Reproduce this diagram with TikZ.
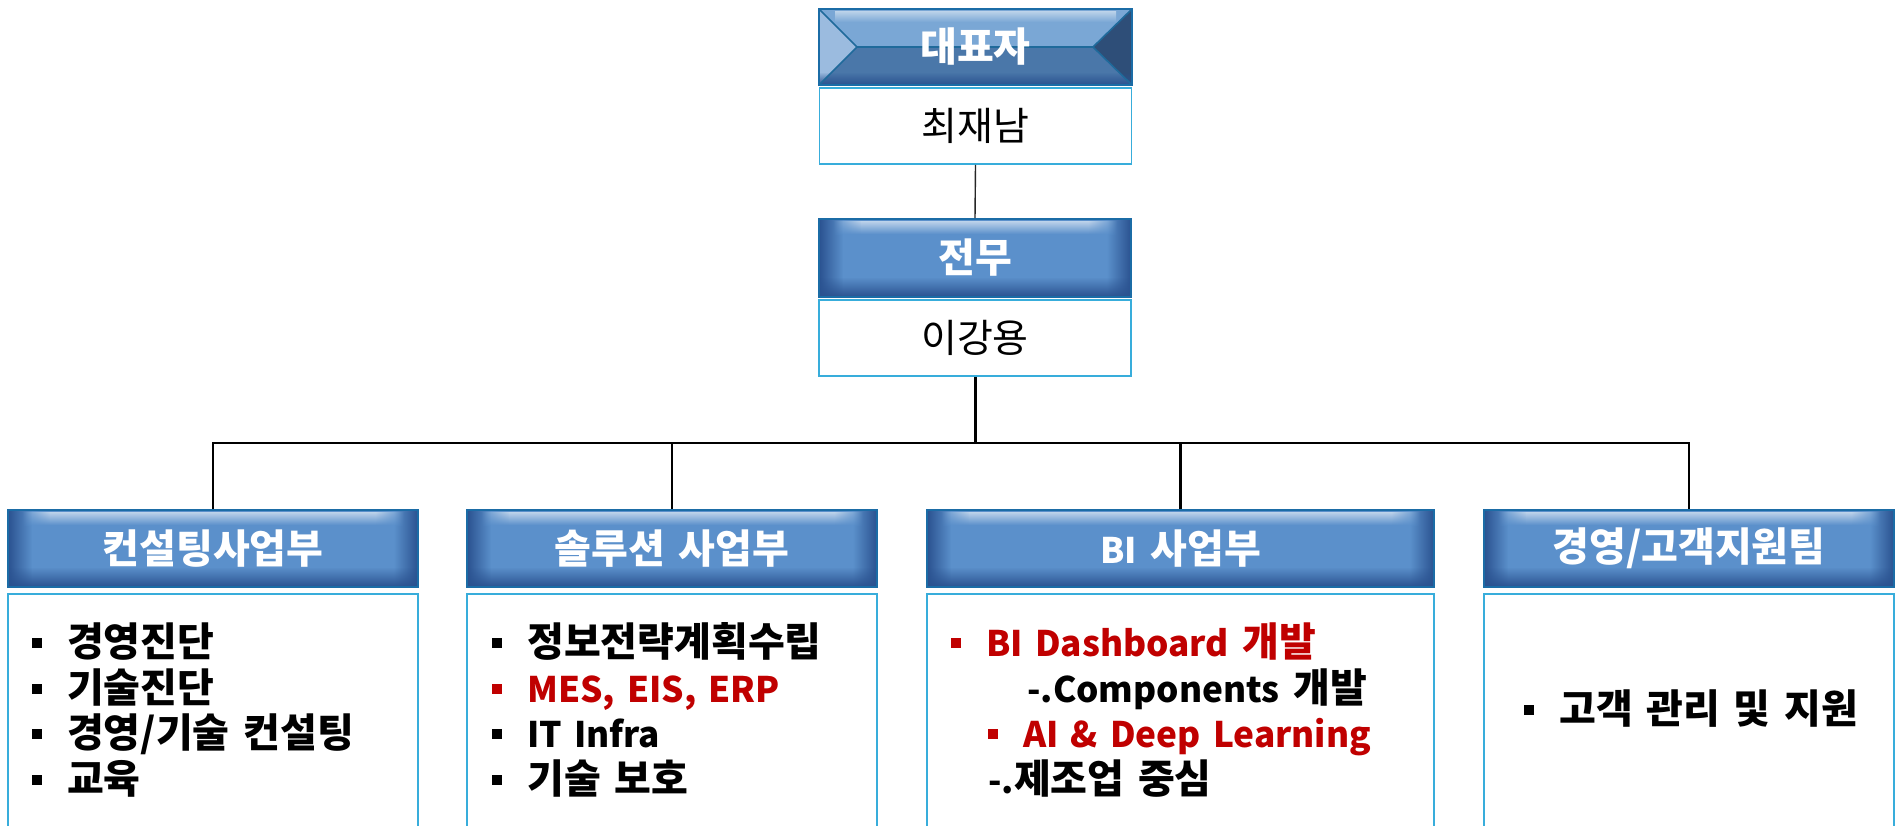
\documentclass[tikz,border=0pt]{standalone}
\usepackage{fontspec}
\setmainfont{Noto Sans CJK KR}[WordSpace=1.5]
\newfontfamily\latf{Noto Sans CJK KR}[Scale=0.88, WordSpace=1.5]
\newcommand\lat[1]{{\latf #1}}
\usetikzlibrary{fadings,calc}
\definecolor{hdrmid}{HTML}{5B90CB}
\definecolor{hdrdark}{HTML}{2A5290}
\definecolor{hdrline}{HTML}{1B6CA6}
\definecolor{namebd}{HTML}{38ADDB}
\definecolor{redtxt}{HTML}{C00000}
\definecolor{bvtop}{HTML}{7AA7D5}
\definecolor{bvbot}{HTML}{4A77A9}
\definecolor{bvleft}{HTML}{9BBBDF}
\definecolor{bvright}{HTML}{2E4E78}
\definecolor{bvline}{HTML}{1F6A9B}
\tikzfading[name=fadeR, left color=transparent!0, right color=transparent!100]
\tikzfading[name=fadeL, left color=transparent!100, right color=transparent!0]
\tikzfading[name=fadeU, bottom color=transparent!0, top color=transparent!100]
\newcommand\hfont{\fontsize{40}{44}\selectfont\bfseries}
\newcommand\tfont{\fontsize{40}{44}\selectfont\bfseries}
\newcommand\nfont{\fontsize{39}{44}\selectfont}
\newcommand\bul{\makebox[35pt][l]{\raisebox{8pt}{\rule{10pt}{10pt}}}}
\tikzset{
  hdr/.style={draw=hdrline, line width=1.8pt, fill=hdrmid, minimum height=77pt, inner sep=0pt, text=white, font=\tfont,
    path picture={
      \coordinate (pa) at (path picture bounding box.south west);
      \coordinate (pb) at (path picture bounding box.north east);
      \fill[hdrdark, path fading=fadeR] (pa) rectangle ($(pa|-pb)+(24pt,0pt)$);
      \fill[hdrdark, path fading=fadeL] ($(pb|-pa)+(-24pt,0pt)$) rectangle (pb);
      \fill[hdrdark, path fading=fadeU] (pa) rectangle ($(pb|-pa)+(0pt,20pt)$);
      \shade[top color=hdrmid!40!white, middle color=white, bottom color=hdrmid] ($(pa|-pb)+(42pt,-2pt)$) rectangle ($(pb)+(-42pt,-15pt)$);
      \shade[top color=hdrmid!40!white, middle color=white, bottom color=hdrmid, path fading=fadeL] ($(pa|-pb)+(14pt,-2pt)$) rectangle ($(pa|-pb)+(42.5pt,-15pt)$);
      \shade[top color=hdrmid!40!white, middle color=white, bottom color=hdrmid, path fading=fadeR] ($(pb)+(-42.5pt,-2pt)$) rectangle ($(pb)+(-14pt,-15pt)$);
    }},
  namebox/.style={draw=namebd, line width=1.6pt, fill=white, minimum width=312pt, minimum height=76pt, inner sep=0pt, font=\nfont},
  cbox/.style={draw=namebd, line width=1.6pt, minimum height=260pt, anchor=north, inner sep=0pt},
  item/.style={anchor=base west, inner sep=0pt, font=\hfont},
  thinln/.style={line width=1.4pt, black!85},
  mainln/.style={line width=3pt, black},
  busln/.style={line width=2.6pt, black, line join=miter}
}
\begin{document}
\begin{tikzpicture}[x=1pt,y=-1pt]
\path[use as bounding box] (0,0) rectangle (1899,825);
\clip (0,0) rectangle (1899,825);
\fill[white] (0,0) rectangle (1899,825);

% CEO bevel box
\fill[bvtop] (819,9) -- (1132,9) -- (1093,47) -- (857,47) -- cycle;
\fill[bvbot] (819,85) -- (1132,85) -- (1093,47) -- (857,47) -- cycle;
\fill[bvleft] (819,9) -- (857,47) -- (819,85) -- cycle;
\fill[bvright] (1132,9) -- (1093,47) -- (1132,85) -- cycle;
\shade[top color=bvtop!50!white, middle color=white!85!bvtop, bottom color=bvtop] (835,11) rectangle (1116,22);
\fill[hdrdark, path fading=fadeU] (819,85) rectangle (1132,72);
\draw[bvline, line width=1.6pt] (819,9) -- (857,47) -- (819,85)
  (857,47) -- (1093,47) (1132,9) -- (1093,47) -- (1132,85);
\node[draw=hdrline, line width=1.8pt, minimum width=313pt, minimum height=76pt, inner sep=0pt, text=white, font=\tfont] (ceo) at (975.5,47) {대표자};
\node[namebox] (ceoname) at (975.5,126) {최재남};

% VP
\node[hdr, minimum width=312pt, minimum height=78pt] (vp) at (975,258) {전무};
\node[namebox] (vpname) at (975,338) {이강용};

% departments
\node[hdr, minimum width=410pt] (h1) at (213,548.5) {컨설팅사업부};
\node[hdr, minimum width=410pt] (h2) at (672,548.5) {솔루션 사업부};
\node[hdr, minimum width=507pt] (h3) at (1180.5,548.5) {\lat{BI} 사업부};
\node[hdr, minimum width=410pt] (h4) at (1689,548.5) {경영/고객지원팀};

\node[cbox, minimum width=410pt] (c1) at (213,593) {};
\node[cbox, minimum width=410pt] (c2) at (672,593) {};
\node[cbox, minimum width=507pt] (c3) at (1180.5,593) {};
\node[cbox, minimum width=410pt] (c4) at (1689,593) {};

% connectors
\coordinate (bus) at (0,443);
\draw[thinln] (ceoname.south) -- (vp.north);
\draw[mainln] (vpname.south) -- (vpname.south |- bus);
\draw[busln] (h1.north) -- (h1.north |- bus) -- (h4.north |- bus) -- (h4.north);
\draw[busln] (h2.north) -- (h2.north |- bus);
\draw[busln] (h3.north) -- (h3.north |- bus);

% column 1
\node[item] (t11) at (32,656) {\bul 경영진단};
\node[item] (t12) at (32,702) {\bul 기술진단};
\node[item] (t13) at (32,747) {\bul 경영/기술 컨설팅};
\node[item] (t14) at (32,793) {\bul 교육};
% column 2
\node[item] (t21) at (492,656) {\bul 정보전략계획수립};
\node[item, text=redtxt] (t22) at (492,702) {\bul \lat{MES, EIS, ERP}};
\node[item] (t23) at (492,747) {\bul \lat{IT Infra}};
\node[item] (t24) at (492,793) {\bul 기술 보호};
% column 3
\node[item, text=redtxt] (t31) at (951,656) {\bul \lat{BI Dashboard} 개발};
\node[item] (t32) at (1027,702) {\lat{-.Components} 개발};
\node[item, text=redtxt] (t33) at (988,747) {\bul \lat{AI \& Deep Learning}};
\node[item] (t34) at (988,793) {\lat{-.}제조업 중심};
% column 4
\node[item] (t41) at (1524,723) {\bul 고객 관리 및 지원};
\end{tikzpicture}
\end{document}
